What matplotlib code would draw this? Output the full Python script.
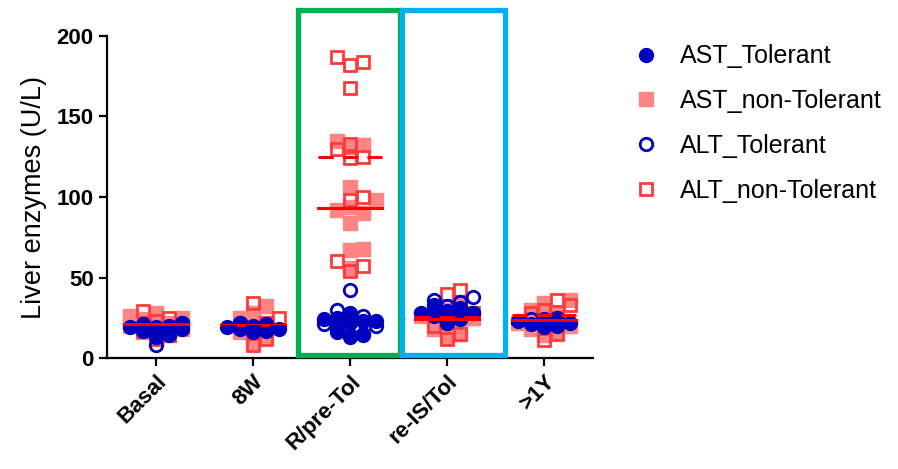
import numpy as np
import matplotlib
matplotlib.use('Agg')
import matplotlib.pyplot as plt
from matplotlib.lines import Line2D
from matplotlib.patches import Rectangle

plt.rcParams['font.family'] = ['Liberation Sans', 'DejaVu Sans']

groups = ['Basal', '8W', 'R/pre-Tol', 're-IS/Tol', '>1Y']

# liver enzyme values (U/L) per time point
ast_tol = [
    [22, 21, 20, 19, 18, 17, 14, 13, 19],
    [20, 22, 18, 17, 16, 19, 21, 18],
    [28, 25, 24, 23, 23, 22, 16, 14, 13],
    [33, 31, 29, 28, 28, 26, 24, 22],
    [25, 23, 22, 21, 20, 24, 19],
]
ast_nontol = [
    [28, 26, 24, 22, 20, 18, 16, 14, 12, 25, 21],
    [32, 28, 25, 22, 19, 16, 13, 10],
    [135, 132, 131, 106, 98, 94, 92, 90, 84, 67, 68, 56],
    [35, 30, 28, 26, 25, 24, 22, 18, 15, 13],
    [36, 34, 30, 28, 25, 22, 20, 18, 16, 14],
]
alt_tol = [
    [8, 20, 22, 18, 15],
    [22, 20, 17],
    [42, 30, 26, 24, 21, 20, 18, 15, 14],
    [38, 36, 35, 32, 28, 27, 25, 22],
    [24, 22, 20],
]
alt_nontol = [
    [29, 25, 23, 20, 17, 14, 12],
    [34, 25, 22, 20, 17, 12, 8],
    [187, 184, 182, 168, 133, 130, 125, 124, 100, 98, 60, 57, 54],
    [42, 40, 28, 26, 25, 20, 15, 12],
    [36, 33, 30, 28, 25, 20, 15, 11],
]

blue = '#0000BF'
pink = '#FF8585'
red_open = '#FF3B3B'
red_line = '#FF0000'

fig = plt.figure(figsize=(8.98, 4.69), dpi=100)
ax = fig.add_axes([107/898, 1 - 358/469, (593-107)/898, (358-36)/469])
ax.set_xlim(-0.5, 4.5)
ax.set_ylim(0, 200)


def swarm(vals, xc, gap=13.0, maxk=2):
    # spread points sideways; when the band is full, take the least crowded slot
    vals = np.asarray(vals, dtype=float)
    pts = ax.transData.transform(np.column_stack([np.full(len(vals), xc), vals]))
    offs = np.zeros(len(vals))
    placed = []
    steps = [0.0]
    for k in range(1, maxk + 1):
        steps += [k * gap, -k * gap]
    for i in np.argsort(vals):
        y = pts[i, 1]
        best, best_d = 0.0, -1.0
        for s in steps:
            d = min([np.hypot(s - px, y - py) for px, py in placed] or [1e9])
            if d >= gap:
                best = s
                break
            if d > best_d:
                best, best_d = s, d
        offs[i] = best
        placed.append((best, y))
    back = ax.transData.inverted().transform(np.column_stack([pts[:, 0] + offs, pts[:, 1]]))
    return back[:, 0]


ms = 10
series = [
    (ast_nontol, dict(marker='s', color=pink, mec=pink, mfc=pink, ms=ms), red_line, '-'),
    (alt_nontol, dict(marker='s', color=red_open, mec=red_open, mfc='none', ms=ms - 1, mew=2), red_line, '--'),
    (alt_tol, dict(marker='o', color=blue, mec=blue, mfc='none', ms=ms - 1, mew=2), blue, '--'),
    (ast_tol, dict(marker='o', color=blue, mec=blue, mfc=blue, ms=ms), blue, '-'),
]

for data, style, lc, ls in series:
    for i, vals in enumerate(data):
        xs = swarm(vals, i)
        ax.plot(xs, vals, linestyle='none', clip_on=False, zorder=3, **style)
        med = np.median(vals)
        ax.plot([i - 0.33, i + 0.33], [med, med], color=lc, lw=2.2, ls=ls,
                dashes=(5, 3) if ls == '--' else (None, None), zorder=4)

# highlight boxes
ax.add_patch(Rectangle((1.46, 2), 1.05, 214, fill=False, ec='#00B050', lw=3.8,
                       clip_on=False, zorder=5))
ax.add_patch(Rectangle((2.54, 2), 1.05, 214, fill=False, ec='#00B0F0', lw=3.8,
                       clip_on=False, zorder=5))

for s in ['top', 'right']:
    ax.spines[s].set_visible(False)
for s in ['left', 'bottom']:
    ax.spines[s].set_linewidth(1.6)

ax.set_yticks([0, 50, 100, 150, 200])
ax.set_xticks(range(len(groups)))
ax.set_xticklabels(groups, rotation=45, ha='right', rotation_mode='anchor',
                   fontweight='bold', fontsize=16.5)
ax.tick_params(axis='both', direction='out', length=6, width=1.6, labelsize=16)
for lab in ax.get_yticklabels():
    lab.set_fontweight('bold')
ax.set_ylabel('Liver enzymes (U/L)', fontsize=19.5, labelpad=7)

handles = [
    Line2D([], [], linestyle='none', marker='o', color=blue, ms=ms),
    Line2D([], [], linestyle='none', marker='s', color=pink, ms=ms),
    Line2D([], [], linestyle='none', marker='o', mec=blue, mfc='none', mew=2, ms=ms - 1),
    Line2D([], [], linestyle='none', marker='s', mec=red_open, mfc='none', mew=2, ms=ms - 1),
]
labels = ['AST_Tolerant', 'AST_non-Tolerant', 'ALT_Tolerant', 'ALT_non-Tolerant']
fig.legend(handles, labels, loc='upper left', bbox_to_anchor=(611/898, 1 - 22/469),
           frameon=False, fontsize=18, labelspacing=0.83, handletextpad=0.86,
           handlelength=1.0)

fig.savefig('out.png', dpi=100)
